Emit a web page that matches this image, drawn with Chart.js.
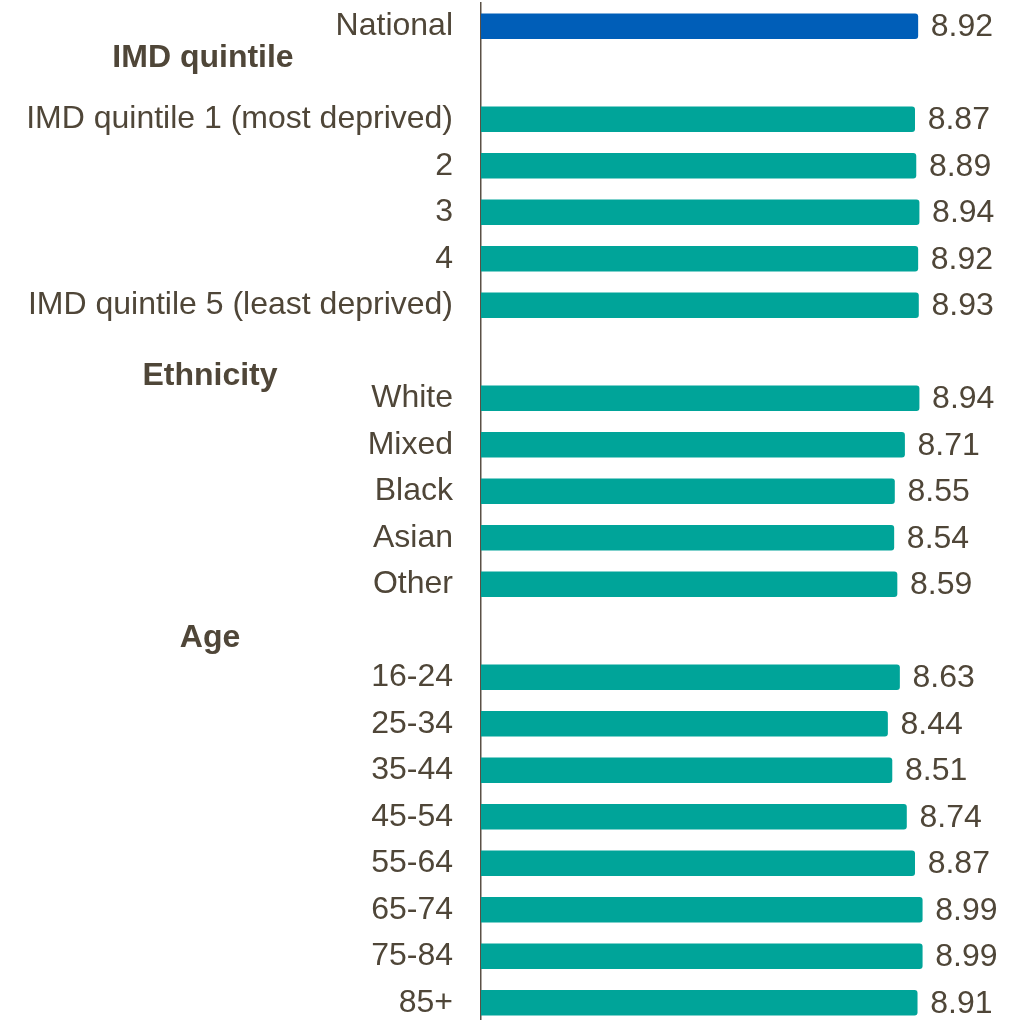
<!DOCTYPE html>
<html>
<head>
<meta charset="utf-8">
<script src="https://cdn.jsdelivr.net/npm/chart.js@4"></script>
<style>
  html, body { margin: 0; padding: 0; overflow: hidden; background: #fff; }
  #wrap { width: 1022px; height: 1026px; }
</style>
</head>
<body>
<div id="wrap"><canvas id="chart"></canvas></div>
<script>
// rows, blank strings are spacer rows under the group headings
const categories = [
  'National', '',
  'IMD quintile 1 (most deprived)', '2', '3', '4', 'IMD quintile 5 (least deprived)', '',
  'White', 'Mixed', 'Black', 'Asian', 'Other', '',
  '16-24', '25-34', '35-44', '45-54', '55-64', '65-74', '75-84', '85+'
];
const scores = [
  8.92, null,
  8.87, 8.89, 8.94, 8.92, 8.93, null,
  8.94, 8.71, 8.55, 8.54, 8.59, null,
  8.63, 8.44, 8.51, 8.74, 8.87, 8.99, 8.99, 8.91
];
const groupHeadings = ['IMD quintile', 'Ethnicity', 'Age'];

const textColor = '#4f4638';
const font = 'Liberation Sans, Arial, sans-serif';

// group headings + value labels
const labelsPlugin = {
  id: 'labels',
  afterDatasetsDraw(chart) {
    const ctx = chart.ctx;
    const y = chart.scales.y;
    ctx.save();
    ctx.fillStyle = textColor;

    ctx.font = 'bold 32px ' + font;
    ctx.textAlign = 'center';
    ctx.textBaseline = 'middle';
    const spots = [[203, 0.69], [210, 7.53], [210, 13.16]];
    groupHeadings.forEach((h, i) => {
      ctx.fillText(h, spots[i][0], y.getPixelForValue(spots[i][1]));
    });

    ctx.font = '32px ' + font;
    ctx.textAlign = 'left';
    const meta = chart.getDatasetMeta(0);
    meta.data.forEach((bar, i) => {
      if (scores[i] == null) return;
      ctx.fillText(scores[i].toFixed(2), bar.x + 13, bar.y + 1);
    });
    ctx.restore();
  }
};

new Chart(document.getElementById('chart'), {
  type: 'bar',
  data: {
    labels: categories,
    datasets: [{
      data: scores,
      backgroundColor: categories.map(c => c === 'National' ? '#005eb8' : '#00a499'),
      barThickness: 25,
      borderRadius: 3,
      borderSkipped: 'start'
    }]
  },
  options: {
    indexAxis: 'y',
    responsive: true,
    maintainAspectRatio: false,
    animation: false,
    layout: { padding: { top: 3, right: 36, bottom: 0, left: 0 } },
    plugins: { legend: { display: false }, tooltip: { enabled: false } },
    scales: {
      x: { display: false, min: 2, max: 10 },
      y: {
        afterFit(scale) {
          scale.width = 481;
          scale.paddingTop = 0;
          scale.paddingBottom = 0;
        },
        grid: { display: false, drawTicks: false },
        border: { display: true, color: '#5a5045', width: 1.5 },
        ticks: {
          color: textColor,
          padding: 28,
          autoSkip: false,
          font: { family: font, size: 32 }
        }
      }
    }
  },
  plugins: [labelsPlugin]
});
</script>
</body>
</html>
